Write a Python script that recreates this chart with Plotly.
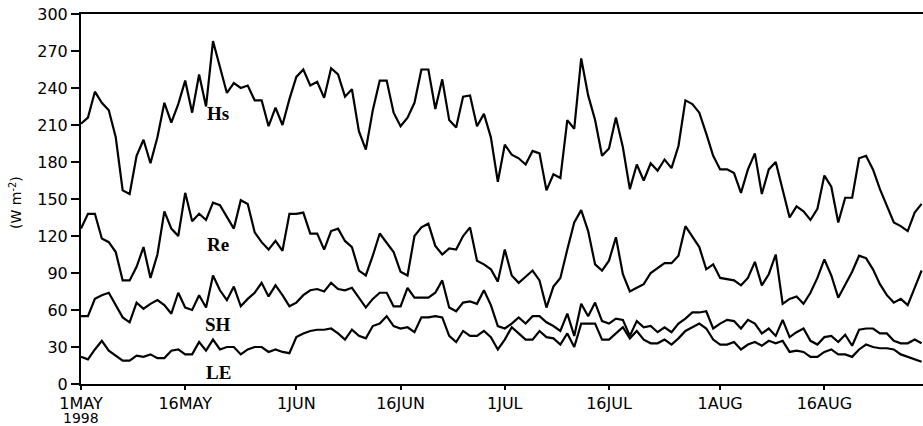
import pandas as pd
import plotly.graph_objects as go

start = "1998-05-01"
n_days = 122
dates = pd.date_range(start, periods=n_days, freq="D")

hs = [211, 216, 237, 228, 222, 200, 157, 154, 185, 198, 179, 200, 228, 212, 227, 246, 220, 251, 225, 278, 257, 236, 244, 240, 242,
      230, 230, 209, 224, 210, 231, 249, 255, 242, 245, 232, 256, 251, 233, 239, 205, 190, 222, 246, 246, 220, 209, 216, 228,
      255, 255, 223, 247, 214, 208, 233, 234, 209, 219, 200, 164, 194, 186, 183, 178, 189, 187, 157, 170, 167, 214, 207, 264,
      234, 214, 185, 191, 216, 192, 158, 178, 165, 179, 173, 182, 175, 193, 230, 227, 220, 203, 185, 174, 174, 171, 155, 174,
      187, 154, 174, 180, 157, 135, 144, 140, 133, 142, 169, 160, 131, 151, 151, 183, 185, 174, 158, 145, 131, 128, 124, 139, 146]

re = [126, 138, 138, 118, 115, 107, 84, 84, 95, 111, 86, 105, 140, 126, 120, 155, 132, 138, 133, 147, 145, 136, 126, 149, 146,
      123, 115, 109, 116, 108, 138, 138, 139, 122, 122, 109, 124, 126, 116, 111, 92, 88, 104, 122, 114, 107, 91, 88, 120,
      127, 130, 112, 105, 110, 109, 120, 127, 100, 97, 93, 83, 109, 88, 82, 87, 92, 84, 62, 79, 86, 109, 131, 141,
      124, 97, 92, 100, 119, 89, 75, 78, 81, 90, 94, 98, 98, 104, 128, 120, 111, 93, 97, 86, 85, 84, 80, 86,
      99, 80, 89, 105, 65, 69, 71, 65, 74, 86, 101, 88, 70, 80, 91, 104, 102, 93, 81, 72, 66, 69, 64, 78, 92]

sh = [55, 55, 69, 72, 74, 64, 54, 50, 66, 61, 65, 68, 64, 57, 74, 62, 60, 72, 62, 88, 76, 68, 79, 63, 69,
      74, 82, 71, 80, 72, 63, 66, 72, 76, 77, 75, 82, 77, 76, 78, 70, 62, 69, 74, 74, 63, 63, 78, 70,
      70, 70, 74, 84, 62, 59, 66, 67, 65, 76, 64, 47, 45, 49, 54, 49, 55, 55, 50, 47, 43, 57, 39, 65,
      55, 66, 51, 49, 53, 52, 39, 51, 46, 47, 42, 46, 42, 49, 53, 58, 58, 59, 45, 49, 52, 51, 45, 52,
      49, 41, 45, 39, 52, 38, 42, 45, 35, 32, 38, 39, 34, 40, 31, 44, 45, 45, 41, 41, 35, 33, 33, 36, 33]

le = [22, 20, 28, 35, 27, 23, 19, 19, 23, 22, 24, 21, 21, 27, 28, 24, 24, 34, 27, 36, 28, 30, 30, 24, 28,
      30, 30, 26, 28, 26, 25, 38, 41, 43, 44, 44, 45, 41, 36, 44, 39, 37, 47, 49, 55, 47, 45, 46, 42,
      54, 54, 55, 54, 39, 34, 43, 39, 39, 43, 38, 28, 36, 46, 41, 36, 36, 43, 38, 37, 32, 41, 30, 49,
      49, 49, 36, 36, 41, 46, 37, 43, 36, 33, 33, 36, 32, 37, 43, 46, 49, 45, 36, 32, 32, 34, 28, 32,
      34, 31, 35, 33, 35, 26, 27, 26, 22, 22, 26, 28, 24, 24, 22, 28, 32, 30, 29, 29, 28, 24, 22, 20, 18]

series = {"Hs": hs, "Re": re, "SH": sh, "LE": le}

tick_dates = ["1998-05-01", "1998-05-16", "1998-06-01", "1998-06-16",
              "1998-07-01", "1998-07-16", "1998-08-01", "1998-08-16"]
tick_labels = ["1MAY", "16MAY", "1JUN", "16JUN", "1JUL", "16JUL", "1AUG", "16AUG"]
year_label = "1998"
y_ticks = list(range(0, 301, 30))

label_names = ["Hs", "Re", "SH", "LE"]
label_x = ["1998-05-20 18:00"] * 4
label_y = [219, 113, 48, 9]

fig = go.Figure()
for name, vals in series.items():
    fig.add_trace(go.Scatter(x=dates, y=vals, mode="lines", name=name,
                             line=dict(color="black", width=2.2), showlegend=False))

for nm, lx, ly in zip(label_names, label_x, label_y):
    fig.add_annotation(x=lx, y=ly, text="<b>%s</b>" % nm, showarrow=False,
                       font=dict(family="Liberation Serif", size=19, color="black"),
                       xanchor="center", yanchor="middle")

# year under the first date tick
fig.add_annotation(x=tick_dates[0], xref="x", yref="paper", y=-0.092,
                   text=year_label, showarrow=False,
                   font=dict(family="DejaVu Sans", size=14, color="black"),
                   xanchor="center", yanchor="middle")

fig.add_annotation(xref="paper", yref="paper", x=-0.078, y=0.49,
                   text="(W m<sup>-2</sup>)", textangle=-90, showarrow=False,
                   font=dict(family="DejaVu Sans", size=14, color="black"),
                   xanchor="center", yanchor="middle")

x_end = pd.Timestamp(start) + pd.Timedelta(days=121.2)

fig.update_layout(
    width=923, height=426,
    margin=dict(l=81, r=0, t=14, b=42, autoexpand=False),
    paper_bgcolor="white", plot_bgcolor="white",
    font=dict(family="DejaVu Sans", size=16, color="black"),
    xaxis=dict(range=[pd.Timestamp(start), x_end], tickvals=tick_dates, ticktext=tick_labels,
               showgrid=False, zeroline=False, showline=True, linecolor="black", linewidth=2,
               mirror=True, ticks="outside", ticklen=4, tickwidth=1.5, tickcolor="black",
               ticklabelstandoff=0, automargin=False, ticklabeloverflow="allow",
               tickfont=dict(family="DejaVu Sans", size=16)),
    yaxis=dict(range=[0, 300], tickvals=y_ticks, showgrid=False, zeroline=False,
               showline=True, linecolor="black", linewidth=2, ticks="outside", ticklen=8,
               tickwidth=1.5, tickcolor="black", automargin=False, ticklabeloverflow="allow",
               tickfont=dict(family="DejaVu Sans", size=16)),
)

fig.write_html("out.html", config={"displayModeBar": False},
               post_script="document.body.style.margin='0px'; document.body.style.overflow='hidden';")
